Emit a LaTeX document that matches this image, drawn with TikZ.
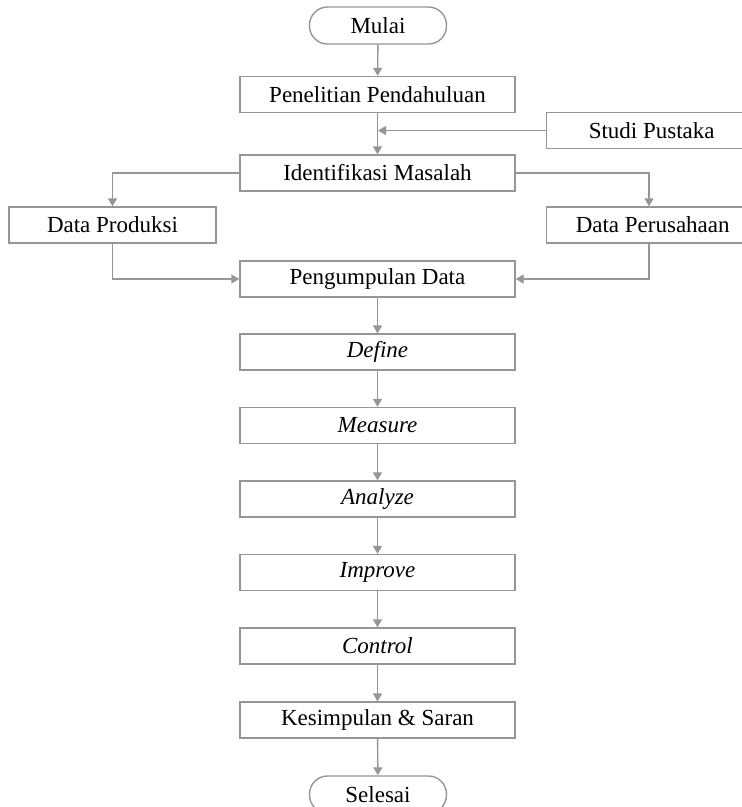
\documentclass[tikz,border=0pt]{standalone}
\usepackage{fontspec}
\setmainfont{Liberation Serif}
\usetikzlibrary{arrows.meta}
\definecolor{lc}{RGB}{150,150,150}
\begin{document}
\begin{tikzpicture}[x=1pt,y=-1pt,
  box/.style={draw=lc,line width=1.4pt,rectangle,minimum height=36pt,inner sep=0pt,font=\fontsize{23}{25}\selectfont,text=black},
  mainbox/.style={box,minimum width=275pt},
  term/.style={box,minimum width=137pt,minimum height=37pt,rounded corners=18pt},
  conn/.style={draw=lc,line width=1.4pt,-{Triangle[width=9pt,length=8pt]}}]
\useasboundingbox (0,0) rectangle (742,807);
\fill[white] (0,0) rectangle (742,807);
\node[term] (mulai) at (378,25.5) {Mulai};
\node[mainbox] (pen) at (377.5,94.5) {Penelitian Pendahuluan};
\node[box,minimum width=210pt,anchor=west] (studi) at (546,130.5) {Studi Pustaka};
\node[mainbox] (idm) at (377.5,173) {Identifikasi Masalah};
\node[box,minimum width=207pt] (dprod) at (112.5,225) {Data Produksi};
\node[box,minimum width=212pt,anchor=west] (dper) at (546,225) {Data Perusahaan};
\node[mainbox] (pdata) at (377.5,279) {Pengumpulan Data};
\node[mainbox] (def) at (377.5,352) {\textit{Define}};
\node[mainbox] (mea) at (377.5,425.5) {\textit{Measure}};
\node[mainbox] (ana) at (377.5,499) {\textit{Analyze}};
\node[mainbox] (imp) at (377.5,572.5) {\textit{Improve}};
\node[mainbox] (con) at (377.5,646) {\textit{Control}};
\node[mainbox] (kes) at (377.5,720) {Kesimpulan \& Saran};
\node[term] (sel) at (378,794.5) {Selesai};
\coordinate (j1) at (378,130.5);
\draw[conn] (mulai) -- (pen);
\draw[conn] (pen) -- (idm);
\draw[conn] (studi.west) -- (j1);
\draw[conn] (idm.west) -| (dprod.north);
\draw[conn] (idm.east) -| (dper.north -| 649,0);
\draw[conn] (dprod.south) |- (pdata.west);
\draw[conn] (dper.south -| 649,0) |- (pdata.east);
\draw[conn] (pdata) -- (def);
\draw[conn] (def) -- (mea);
\draw[conn] (mea) -- (ana);
\draw[conn] (ana) -- (imp);
\draw[conn] (imp) -- (con);
\draw[conn] (con) -- (kes);
\draw[conn] (kes) -- (sel);
\end{tikzpicture}
\end{document}
